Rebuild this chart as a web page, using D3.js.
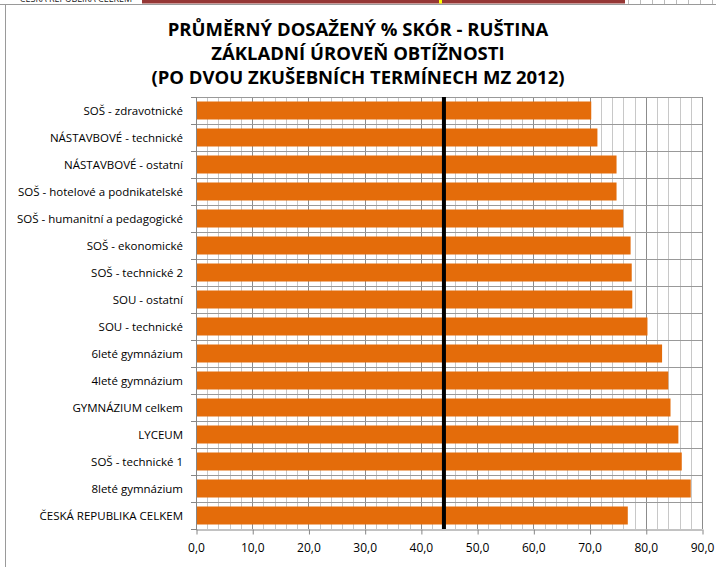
<!DOCTYPE html>
<html>
<head>
<meta charset="utf-8">
<script src="https://cdn.jsdelivr.net/npm/d3@7"></script>
<style>
  body { margin: 0; background: #fff; }
  svg { display: block; font-family: "Open Sans", "Liberation Sans", Arial, sans-serif; }
</style>
</head>
<body>
<div id="chart"></div>
<script>
// Data
var categories = [
  "SOŠ - zdravotnické",
  "NÁSTAVBOVÉ - technické",
  "NÁSTAVBOVÉ - ostatní",
  "SOŠ - hotelové a podnikatelské",
  "SOŠ - humanitní a pedagogické",
  "SOŠ - ekonomické",
  "SOŠ - technické 2",
  "SOU - ostatní",
  "SOU - technické",
  "6leté gymnázium",
  "4leté gymnázium",
  "GYMNÁZIUM celkem",
  "LYCEUM",
  "SOŠ - technické 1",
  "8leté gymnázium",
  "ČESKÁ REPUBLIKA CELKEM"
];
var scores = [70.3, 71.4, 74.8, 74.8, 76.0, 77.3, 77.5, 77.6, 80.3, 82.9, 84.0, 84.4, 85.8, 86.4, 88.0, 76.8];
var refValue = 44.1;
var xTicks = [0, 10, 20, 30, 40, 50, 60, 70, 80, 90];
var titleLines = [
  "PRŮMĚRNÝ DOSAŽENÝ % SKÓR - RUŠTINA",
  "ZÁKLADNÍ ÚROVEŇ OBTÍŽNOSTI",
  "(PO DVOU ZKUŠEBNÍCH TERMÍNECH MZ 2012)"
];

var width = 716, height = 567;
var margin = {top: 97, right: 14, bottom: 38, left: 196};

var svg = d3.select("#chart").append("svg")
  .attr("width", width)
  .attr("height", height);

svg.append("rect").attr("width", width).attr("height", height).attr("fill", "#fff");

// Strip of the chart behind (sheet above this chart)
var clip = svg.append("clipPath").attr("id", "topclip");
clip.append("rect").attr("x", 0).attr("y", 0).attr("width", width).attr("height", 4);
var behind = svg.append("g").attr("clip-path", "url(#topclip)");
behind.append("text")
  .attr("x", 132).attr("y", 2)
  .attr("text-anchor", "end")
  .style("font-size", "9px")
  .attr("fill", "#222")
  .text("ČESKÁ REPUBLIKA CELKEM");
behind.append("rect").attr("x", 142).attr("y", -10).attr("width", 483).attr("height", 13.5).attr("fill", "#953735");
behind.append("rect").attr("x", 439).attr("y", -10).attr("width", 3).attr("height", 13.5).attr("fill", "#ffff00");
d3.range(628, 716, 12).forEach(function(gx) {
  behind.append("line").attr("x1", gx + 0.5).attr("x2", gx + 0.5).attr("y1", 0).attr("y2", 4)
    .attr("stroke", "#bbb");
});

// chart frame
svg.append("line").attr("x1", 0).attr("x2", width).attr("y1", 4.5).attr("y2", 4.5).attr("stroke", "#9a9a9a");
svg.append("line").attr("x1", 5.5).attr("x2", 5.5).attr("y1", 4.5).attr("y2", height).attr("stroke", "#9a9a9a");

// Title
svg.append("text")
  .attr("x", 358)
  .attr("text-anchor", "middle")
  .style("font-size", "18.5px")
  .style("font-weight", "bold")
  .attr("fill", "#000")
  .selectAll("tspan")
  .data(titleLines)
  .join("tspan")
    .attr("x", 358)
    .attr("y", (d, i) => 36 + i * 24)
    .text(d => d);

// Scales
var x = d3.scaleLinear()
  .domain([0, 90])
  .range([margin.left, width - margin.right]);

var y = d3.scaleBand()
  .domain(categories)
  .range([margin.top, height - margin.bottom])
  .paddingInner(1 / 3)
  .paddingOuter(1 / 6);

var y0 = margin.top, y1 = height - margin.bottom;

// Gridlines
var minorTicks = d3.range(2, 90, 2).filter(d => d % 10 !== 0);
svg.append("g").selectAll("line")
  .data(minorTicks)
  .join("line")
    .attr("x1", d => Math.round(x(d)) + 0.5)
    .attr("x2", d => Math.round(x(d)) + 0.5)
    .attr("y1", y0).attr("y2", y1)
    .attr("stroke", "#c8c8c8");

svg.append("g").selectAll("line")
  .data(xTicks.slice(1))
  .join("line")
    .attr("x1", d => Math.round(x(d)) + 0.5)
    .attr("x2", d => Math.round(x(d)) + 0.5)
    .attr("y1", y0).attr("y2", y1)
    .attr("stroke", "#8c8c8c");

var step = y.step();
svg.append("g").selectAll("line")
  .data(d3.range(0, categories.length))
  .join("line")
    .attr("x1", margin.left).attr("x2", x(90))
    .attr("y1", i => Math.round(y0 + i * step) + 0.5)
    .attr("y2", i => Math.round(y0 + i * step) + 0.5)
    .attr("stroke", "#999");

// Bars
svg.append("g").selectAll("rect")
  .data(scores)
  .join("rect")
    .attr("x", x(0))
    .attr("y", (d, i) => y(categories[i]))
    .attr("width", d => x(d) - x(0))
    .attr("height", y.bandwidth())
    .attr("fill", "#E46C0A");

// Reference line
svg.append("line")
  .attr("x1", x(refValue)).attr("x2", x(refValue))
  .attr("y1", y0).attr("y2", y1)
  .attr("stroke", "#000")
  .attr("stroke-width", 4);

// Bottom axis
var fmt = d => d3.format(".1f")(d).replace(".", ",");
var xAxis = svg.append("g")
  .attr("transform", `translate(0,${y1 + 0.5})`)
  .call(d3.axisBottom(x).tickValues(xTicks).tickFormat(fmt).tickSize(5).tickSizeOuter(0).tickPadding(9));
xAxis.select(".domain").attr("stroke", "#868686");
xAxis.selectAll(".tick line").attr("stroke", "#868686")
  .attr("transform", "translate(0.5,0)");
xAxis.selectAll(".tick text")
  .style("font-family", "Open Sans, Liberation Sans, Arial, sans-serif")
  .style("font-size", "12px")
  .attr("fill", "#000");

// Left axis: ticks at category boundaries
var yAxis = svg.append("g");
yAxis.append("line")
  .attr("x1", margin.left + 0.5).attr("x2", margin.left + 0.5)
  .attr("y1", y0).attr("y2", y1 + 1)
  .attr("stroke", "#868686");
yAxis.selectAll(".bt")
  .data(d3.range(0, categories.length + 1))
  .join("line")
    .attr("class", "bt")
    .attr("x1", margin.left - 5).attr("x2", margin.left)
    .attr("y1", i => Math.round(y0 + i * step) + 0.5)
    .attr("y2", i => Math.round(y0 + i * step) + 0.5)
    .attr("stroke", "#868686");
yAxis.selectAll("text")
  .data(categories)
  .join("text")
    .attr("x", 183)
    .attr("y", d => y(d) + y.bandwidth() / 2)
    .attr("dy", "0.35em")
    .attr("text-anchor", "end")
    .style("font-size", "11.5px")
    .attr("fill", "#000")
    .text(d => d);
</script>
</body>
</html>
